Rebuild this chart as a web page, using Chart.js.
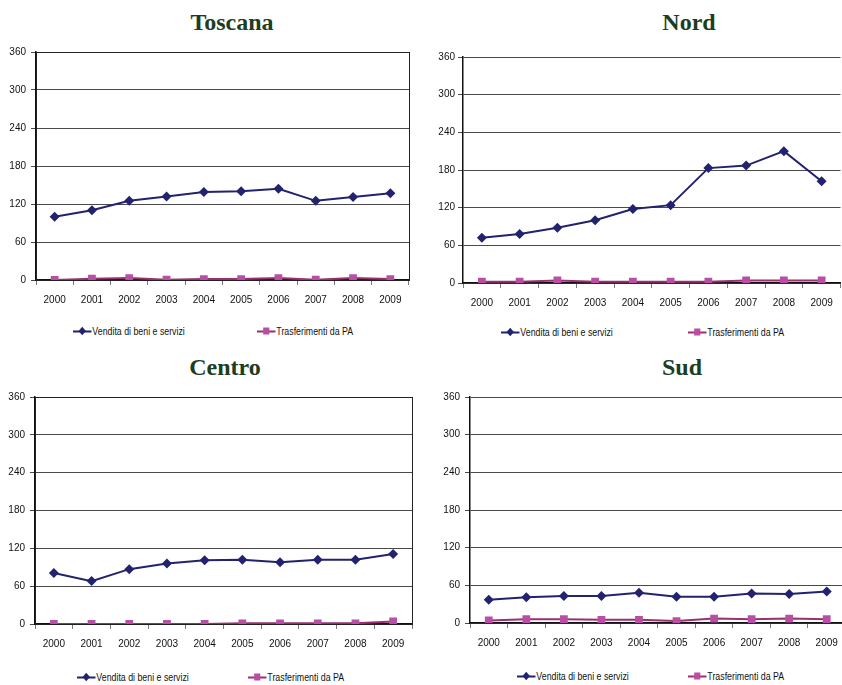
<!DOCTYPE html>
<html lang="it">
<head>
<meta charset="utf-8">
<title>Vendita di beni e servizi e Trasferimenti da PA</title>
<script src="https://cdn.jsdelivr.net/npm/chart.js@4.4.1/dist/chart.umd.min.js"></script>
<style>
  html, body { margin: 0; padding: 0; background: #fff; }
  body { width: 842px; height: 685px; position: relative; overflow: hidden; }
  canvas { position: absolute; }
  .titolo {
    position: absolute; transform: translate(-50%, -50%);
    font-family: "Liberation Serif", "Times New Roman", serif;
    font-weight: bold; font-size: 24px; color: #1d3d1f; white-space: nowrap;
  }
  .voce {
    position: absolute; transform: translateY(-50%) scaleX(0.88); transform-origin: left center;
    font-family: "Liberation Sans", Arial, sans-serif;
    font-size: 10px; color: #111; white-space: nowrap; display: flex; align-items: center;
  }
  .segno { position: relative; width: 21px; height: 9px; margin-right: 1px; }
  .segno::before { content: ""; position: absolute; left: 0; right: 0; top: 4px; height: 2px; }
  .segno::after { content: ""; position: absolute; left: 7px; top: 1px; width: 7px; height: 7px; }
  .v .segno::before { background: #22226e; }
  .v .segno::after { background: #22226e; transform: rotate(45deg) scale(0.85); }
  .t .segno::before { background: #9c2f72; }
  .t .segno::after { background: #b94fa5; }
</style>
</head>
<body>

<div class="titolo" style="left:232px; top:22px">Toscana</div>
<div class="titolo" style="left:689px; top:22px">Nord</div>
<div class="titolo" style="left:225px; top:367px">Centro</div>
<div class="titolo" style="left:682px; top:367px">Sud</div>

<canvas id="cToscana"></canvas>
<canvas id="cNord"></canvas>
<canvas id="cCentro"></canvas>
<canvas id="cSud"></canvas>

<div class="voce v" style="left:73px; top:331px"><span class="segno"></span>Vendita di beni e servizi</div>
<div class="voce t" style="left:257px; top:331px"><span class="segno"></span>Trasferimenti da PA</div>
<div class="voce v" style="left:501px; top:332px"><span class="segno"></span>Vendita di beni e servizi</div>
<div class="voce t" style="left:688px; top:332px"><span class="segno"></span>Trasferimenti da PA</div>
<div class="voce v" style="left:77px; top:677px"><span class="segno"></span>Vendita di beni e servizi</div>
<div class="voce t" style="left:248px; top:677px"><span class="segno"></span>Trasferimenti da PA</div>
<div class="voce v" style="left:517px; top:676px"><span class="segno"></span>Vendita di beni e servizi</div>
<div class="voce t" style="left:688px; top:676px"><span class="segno"></span>Trasferimenti da PA</div>

<script>
// anni e valori (numeri indice) per area
const anni = ['2000', '2001', '2002', '2003', '2004', '2005', '2006', '2007', '2008', '2009'];
const tickY = [0, 60, 120, 180, 240, 300, 360];

const toscanaVendita = [100, 110, 125, 132, 139, 140, 144, 125, 131, 137];
const toscanaTrasf   = [0, 2, 3, 0.5, 1.5, 1.5, 3, 0.5, 3, 1.5];

const nordVendita = [72, 78, 88, 100, 118, 124, 183, 187, 210, 162];
const nordTrasf   = [2, 2, 4, 2, 2, 2, 2, 4, 4, 4];

const centroVendita = [81, 68, 87, 96, 101, 102, 98, 102, 102, 111];
const centroTrasf   = [0, 0, 0, 0, 0, 1, 1, 1, 1, 4];

const sudVendita = [37, 41, 43, 43, 48, 42, 42, 47, 46, 50];
const sudTrasf   = [4, 6, 6, 5, 5, 3, 7, 6, 7, 6];

const fontAssi = { family: '"Liberation Sans", Arial, sans-serif', size: 10 };

// bordo dell'area del grafico (come in Excel)
const bordoArea = {
    id: 'bordoArea',
    afterDatasetsDraw(chart) {
        const a = chart.chartArea, ctx = chart.ctx;
        ctx.save();
        ctx.strokeStyle = '#222';
        ctx.lineWidth = 1;
        ctx.strokeRect(Math.round(a.left) + 0.5, Math.round(a.top) + 0.5,
            Math.round(a.right - a.left), Math.round(a.bottom - a.top));
        ctx.restore();
    }
};

function creaGrafico(id, vendita, trasf, g) {
    const canvas = document.getElementById(id);
    canvas.width = g.w;
    canvas.height = g.h;
    canvas.style.left = g.x + 'px';
    canvas.style.top = g.y + 'px';

    return new Chart(canvas, {
        type: 'line',
        data: {
            labels: anni,
            datasets: [{
                label: 'Vendita di beni e servizi',
                data: vendita,
                borderColor: '#22226e',
                backgroundColor: '#22226e',
                borderWidth: 2,
                pointStyle: 'rectRot',
                pointRadius: 5,
                pointBorderWidth: 0,
                tension: 0
            }, {
                label: 'Trasferimenti da PA',
                data: trasf,
                borderColor: '#9c2f72',
                backgroundColor: '#b94fa5',
                pointBorderColor: '#b94fa5',
                borderWidth: 2,
                pointStyle: 'rect',
                pointRadius: 5.5,
                pointBorderWidth: 0,
                tension: 0
            }]
        },
        options: {
            responsive: false,
            animation: false,
            devicePixelRatio: 1,
            layout: { padding: { top: g.top, right: g.right, bottom: 0, left: 0 } },
            plugins: {
                legend: { display: false },
                title: { display: false },
                tooltip: { enabled: false }
            },
            scales: {
                x: {
                    offset: true,
                    grid: {
                        offset: true,
                        drawOnChartArea: false,
                        drawTicks: true,
                        tickLength: 5,
                        color: '#777'
                    },
                    border: { color: '#111', width: 1.5 },
                    ticks: { color: '#111', font: fontAssi, padding: 9, maxRotation: 0 },
                    afterFit(scale) { scale.height = g.basso; }
                },
                y: {
                    min: 0,
                    max: 360,
                    afterBuildTicks(scale) { scale.ticks = tickY.map(v => ({ value: v })); },
                    grid: { color: '#4a4a4a', lineWidth: 1, tickLength: 5 },
                    border: { color: '#111', width: 1.5 },
                    ticks: { color: '#111', font: fontAssi, padding: g.pad },
                    afterFit(scale) { scale.width = g.sinistra; }
                }
            }
        },
        plugins: g.bordo ? [bordoArea] : []
    });
}

creaGrafico('cToscana', toscanaVendita, toscanaTrasf,
    { x: 0, y: 40, w: 421, h: 270, top: 12, right: 12, sinistra: 36, basso: 30, pad: 5, bordo: true });
creaGrafico('cNord', nordVendita, nordTrasf,
    { x: 421, y: 40, w: 425, h: 275, top: 17, right: 1, sinistra: 42, basso: 32, pad: 3, bordo: false });
creaGrafico('cCentro', centroVendita, centroTrasf,
    { x: 0, y: 380, w: 421, h: 275, top: 17, right: 9, sinistra: 35, basso: 31, pad: 5, bordo: true });
creaGrafico('cSud', sudVendita, sudTrasf,
    { x: 421, y: 380, w: 430, h: 275, top: 17, right: 2, sinistra: 49, basso: 32, pad: 5, bordo: false });
</script>
</body>
</html>
